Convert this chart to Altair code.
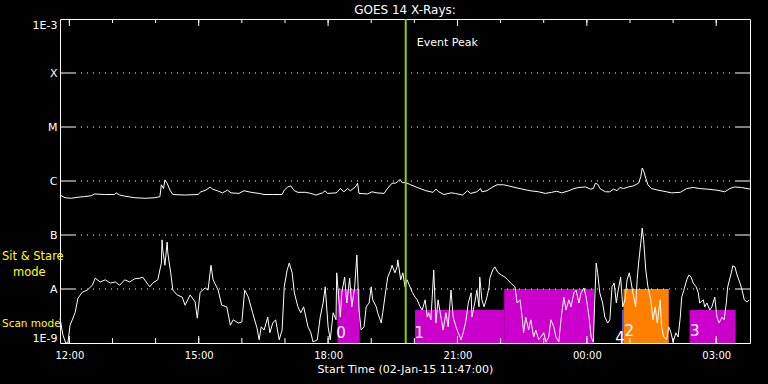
import altair as alt
import pandas as pd

# ---------------- text ----------------
title_text = "GOES 14 X-Rays:"
x_title = "Start Time (02-Jan-15 11:47:00)"
start_clock_min = 11 * 60 + 47          # start time 11:47 in minutes after midnight
span_min = 960                           # plotted span in minutes

# ---------------- y levels (log10 flux, W/m^2) ----------------
level_log = [-9, -8, -7, -6, -5, -4, -3]
level_names = ["1E-9", "A", "B", "C", "M", "X", "1E-3"]
class_log = [-8, -7, -6, -5, -4]          # A, B, C, M, X thresholds

# ---------------- x ticks (minutes after start) ----------------
hour_ticks = [13, 73, 133, 193, 253, 313, 373, 433, 493, 553, 613, 673, 733, 793, 853, 913]
label_ticks = [13, 193, 373, 553, 733, 913]

event_peak_min = 481

# ---------------- long channel (upper curve) ----------------
long_min = [0, 7, 16, 25, 34, 44, 48, 62, 76, 78,
            83, 90, 104, 118, 132, 139, 141, 144, 146, 149,
            153, 157, 173, 192, 196, 203, 209, 212, 219, 226,
            233, 238, 249, 256, 266, 277, 284, 296, 309, 312,
            317, 321, 326, 331, 342, 349, 356, 365, 369, 372,
            384, 386, 390, 395, 400, 404, 411, 414, 416, 428,
            434, 441, 451, 455, 462, 467, 470, 473, 476, 481,
            488, 497, 509, 519, 523, 527, 534, 544, 550, 560,
            567, 571, 580, 585, 587, 594, 601, 608, 617, 624,
            633, 643, 654, 666, 675, 684, 691, 698, 708, 715,
            722, 731, 738, 742, 745, 748, 752, 759, 765, 770,
            775, 779, 784, 791, 798, 805, 808, 810, 812, 815,
            818, 823, 832, 844, 851, 863, 872, 881, 890, 900,
            914, 925, 932, 939, 948, 960]
long_log = [-6.26, -6.31, -6.32, -6.30, -6.29, -6.27, -6.24, -6.25, -6.25, -6.22,
            -6.26, -6.28, -6.31, -6.32, -6.31, -6.29, -6.07, -6.14, -5.98, -6.04,
            -6.17, -6.25, -6.26, -6.25, -6.20, -6.17, -6.11, -6.15, -6.18, -6.22,
            -6.17, -6.22, -6.23, -6.18, -6.21, -6.23, -6.25, -6.25, -6.25, -6.17,
            -6.11, -6.09, -6.18, -6.21, -6.21, -6.23, -6.26, -6.22, -6.18, -6.23,
            -6.22, -6.20, -6.14, -6.20, -6.14, -6.18, -6.11, -6.04, -6.23, -6.24,
            -6.20, -6.22, -6.23, -6.15, -6.04, -6.04, -6.01, -5.97, -6.03, -6.03,
            -6.07, -6.12, -6.18, -6.21, -6.15, -6.20, -6.25, -6.22, -6.23, -6.26,
            -6.18, -6.23, -6.20, -6.14, -6.20, -6.18, -6.12, -6.07, -6.07, -6.09,
            -6.12, -6.15, -6.18, -6.20, -6.23, -6.21, -6.19, -6.22, -6.18, -6.14,
            -6.12, -6.11, -6.15, -6.14, -6.04, -6.06, -6.15, -6.20, -6.20, -6.15,
            -6.18, -6.12, -6.14, -6.11, -6.09, -6.04, -5.92, -5.76, -5.81, -5.95,
            -6.07, -6.14, -6.17, -6.20, -6.22, -6.21, -6.14, -6.12, -6.14, -6.15,
            -6.17, -6.20, -6.14, -6.11, -6.12, -6.15]

# ---------------- short channel (lower curve) ----------------
short_min = [0, 4, 8, 11, 14, 21, 25, 31, 38, 45,
             49, 56, 63, 70, 77, 83, 90, 97, 104, 111,
             115, 121, 125, 129, 136, 141, 142, 143, 146, 149,
             150, 154, 157, 163, 170, 174, 181, 188, 191, 195,
             202, 206, 210, 213, 220, 225, 232, 237, 241, 248,
             253, 257, 262, 268, 274, 277, 280, 284, 289, 292,
             296, 300, 305, 309, 312, 316, 319, 323, 326, 331,
             335, 339, 345, 349, 352, 358, 362, 366, 369, 373,
             376, 380, 384, 385, 390, 392, 396, 399, 403, 406,
             410, 413, 416, 419, 423, 426, 430, 433, 435, 440,
             442, 447, 449, 454, 456, 460, 462, 466, 469, 470,
             474, 477, 480, 483, 487, 490, 494, 497, 501, 504,
             508, 511, 513, 516, 520, 523, 526, 530, 533, 537,
             540, 544, 547, 551, 554, 558, 561, 565, 568, 572,
             573, 577, 580, 583, 584, 587, 590, 594, 597, 598,
             602, 605, 609, 614, 619, 623, 627, 633, 636, 640,
             643, 645, 648, 652, 655, 659, 662, 666, 669, 673,
             676, 680, 683, 687, 690, 694, 697, 701, 704, 708,
             711, 715, 718, 722, 725, 729, 732, 736, 739, 742,
             744, 746, 748, 751, 755, 758, 762, 765, 768, 771,
             774, 776, 780, 783, 786, 789, 792, 794, 797, 801,
             803, 805, 808, 810, 812, 815, 818, 822, 825, 828,
             831, 835, 837, 840, 844, 847, 850, 853, 857, 860,
             863, 865, 868, 872, 875, 878, 881, 885, 888, 890,
             895, 897, 900, 904, 907, 911, 914, 917, 921, 924,
             927, 929, 934, 936, 939, 942, 946, 949, 952, 956,
             959]
short_log = [-8.54, -8.85, -9.00, -9.00, -8.67, -8.44, -8.17, -8.06, -8.02, -7.93,
             -7.80, -7.87, -7.83, -7.89, -7.87, -7.93, -7.83, -7.87, -7.81, -7.80,
             -7.78, -7.89, -7.96, -7.89, -7.83, -7.52, -7.09, -7.28, -7.56, -7.13,
             -7.33, -7.70, -8.02, -8.11, -8.15, -8.30, -8.11, -8.24, -8.54, -8.06,
             -7.98, -8.02, -7.56, -7.83, -8.02, -8.30, -8.33, -8.67, -8.57, -8.63,
             -8.61, -8.02, -8.15, -8.44, -8.72, -8.94, -8.70, -8.76, -8.52, -8.81,
             -8.63, -8.57, -8.94, -8.76, -7.96, -7.65, -7.52, -7.70, -8.07, -8.33,
             -8.44, -8.33, -8.70, -8.81, -8.98, -8.94, -8.52, -8.26, -7.96, -8.70,
             -8.94, -8.44, -8.57, -7.70, -8.52, -8.07, -7.78, -8.26, -7.80, -8.33,
             -7.96, -7.37, -8.39, -8.76, -8.70, -8.33, -8.26, -7.96, -8.20, -8.33,
             -8.44, -8.63, -8.44, -7.96, -7.78, -7.65, -7.56, -7.70, -7.59, -7.46,
             -7.83, -7.70, -7.96, -7.83, -7.96, -8.06, -8.15, -8.20, -8.33, -8.39,
             -8.20, -8.52, -8.44, -8.57, -7.65, -8.63, -8.20, -8.52, -8.76, -8.44,
             -8.70, -8.02, -8.52, -8.70, -8.81, -8.94, -8.81, -8.57, -8.26, -8.07,
             -8.52, -8.26, -8.02, -8.33, -7.78, -8.20, -8.33, -8.15, -7.96, -7.80,
             -7.65, -7.59, -7.69, -7.74, -7.78, -7.83, -7.89, -7.96, -8.26, -8.20,
             -8.52, -8.81, -8.52, -8.76, -8.57, -8.89, -8.76, -8.94, -8.89, -8.81,
             -8.98, -8.89, -8.57, -8.70, -8.89, -8.98, -8.57, -8.15, -8.39, -8.20,
             -8.33, -8.07, -8.02, -8.26, -8.07, -7.98, -8.15, -8.52, -8.89, -8.98,
             -8.20, -7.52, -7.70, -8.07, -8.26, -8.52, -8.63, -8.57, -7.96, -7.89,
             -8.26, -8.07, -7.78, -8.33, -8.20, -7.83, -7.70, -7.83, -8.07, -8.33,
             -7.83, -7.52, -7.15, -6.87, -7.09, -7.65, -7.96, -8.20, -8.57, -8.33,
             -8.63, -8.20, -8.70, -8.89, -8.94, -8.70, -8.81, -8.98, -8.81, -8.89,
             -8.52, -8.15, -8.02, -7.83, -7.74, -7.78, -7.89, -7.96, -8.07, -8.26,
             -8.20, -8.33, -8.26, -8.39, -8.33, -8.15, -8.52, -8.63, -8.52, -8.57,
             -8.26, -7.96, -7.70, -7.57, -7.59, -7.74, -7.89, -8.02, -8.20, -8.24,
             -8.20]

# ---------------- observing-mode boxes ----------------
box_start = [386, 494, 618, 782, 784, 876]
box_end = [417, 618, 743, 784, 847, 940]
box_top = [-8.0, -8.39, -8.0, -8.39, -8.0, -8.39]
box_color = ["#CC00CC", "#CC00CC", "#CC00CC", "#6464FF", "#FF8000", "#CC00CC"]

box_label = ["0", "1", "4", "2", "3"]
box_label_min = [391, 500, 779, 792, 883]
box_label_log = [-8.82, -8.82, -8.90, -8.78, -8.78]

mode_text = ["Sit & Stare", "mode", "Scan mode"]
mode_log = [-7.41, -7.70, -8.65]
mode_dx = [-58, -47, -58]
mode_size = [11.5, 11.5, 10.5]

FONT = "DejaVu Sans"
W, H = 690, 324

assert len(long_min) == len(long_log)
assert len(short_min) == len(short_log)

long_df = pd.DataFrame({"minute": long_min, "logflux": long_log})
short_df = pd.DataFrame({"minute": short_min, "logflux": short_log})
box_df = pd.DataFrame({"minute": box_start, "end": box_end, "top": box_top,
                       "logflux": [-9] * len(box_start), "color": box_color})
lab_df = pd.DataFrame({"minute": box_label_min, "logflux": box_label_log, "label": box_label})
class_df = pd.DataFrame({"logflux": class_log})
hour_df = pd.DataFrame({"minute": hour_ticks})
lbl_tick_df = pd.DataFrame({"minute": label_ticks})
peak_df = pd.DataFrame({"minute": [event_peak_min], "text": ["Event Peak"]})
mode_df = pd.DataFrame({"text": mode_text, "logflux": mode_log, "dx": mode_dx,
                        "size": mode_size})

xs = alt.Scale(domain=[0, span_min], nice=False, zero=False)
ys = alt.Scale(domain=[-9, -3], nice=False, zero=False)

x_label_expr = (
    f"(floor((datum.value + {start_clock_min}) / 60) % 24 < 10 ? '0' : '') + "
    f"(floor((datum.value + {start_clock_min}) / 60) % 24) + ':00'"
)
y_label_expr = " : ".join(
    f"datum.value == {v} ? '{n}'" for v, n in zip(level_log, level_names)
) + " : ''"

x_axis = alt.Axis(values=label_ticks, labelExpr=x_label_expr, ticks=False, domain=False,
                  grid=False, labelColor="white", labelFont=FONT, labelFontSize=10,
                  labelPadding=7, labelFlush=False, title=x_title, titleColor="white",
                  titleFont=FONT, titleFontSize=11, titleFontWeight="normal",
                  titlePadding=3)
y_axis = alt.Axis(values=level_log, labelExpr=y_label_expr, ticks=False, domain=False,
                  grid=False, labelColor="white", labelFont=FONT, labelFontSize=11,
                  labelPadding=3, labelFlush=True, title=None)


def X(field="minute:Q"):
    return alt.X(field, scale=xs, axis=x_axis)


def Y(field="logflux:Q"):
    return alt.Y(field, scale=ys, axis=y_axis)


boxes = alt.Chart(box_df).mark_rect().encode(
    x=X(), x2="end:Q", y=Y(), y2="top:Q",
    color=alt.Color("color:N", scale=None),
)

grid = alt.Chart(class_df).mark_rule(color="white", strokeWidth=1, strokeDash=[1, 5]).encode(
    y=Y(), x=alt.value(15), x2=alt.value(W - 14))
lticks = alt.Chart(class_df).mark_rule(color="white", strokeWidth=1).encode(
    y=Y(), x=alt.value(0), x2=alt.value(15))
rticks = alt.Chart(class_df).mark_rule(color="white", strokeWidth=1).encode(
    y=Y(), x=alt.value(W - 14), x2=alt.value(W))

top_short = alt.Chart(hour_df).mark_rule(color="white").encode(
    x=X(), y=alt.value(0), y2=alt.value(4))
top_long = alt.Chart(lbl_tick_df).mark_rule(color="white").encode(
    x=X(), y=alt.value(0), y2=alt.value(7))
bot_short = alt.Chart(hour_df).mark_rule(color="white").encode(
    x=X(), y=alt.value(H), y2=alt.value(H - 5))
bot_long = alt.Chart(lbl_tick_df).mark_rule(color="white").encode(
    x=X(), y=alt.value(H), y2=alt.value(H - 7))

long_line = alt.Chart(long_df).mark_line(color="white", strokeWidth=1).encode(x=X(), y=Y())
short_line = alt.Chart(short_df).mark_line(color="white", strokeWidth=1).encode(x=X(), y=Y())

peak = alt.Chart(peak_df).mark_rule(color="#99CC00", strokeWidth=2).encode(x=X())
peak_text = alt.Chart(peak_df).mark_text(
    color="white", font=FONT, fontSize=11, align="left", baseline="middle", dx=11
).encode(x=X(), y=alt.value(24), text="text:N")

labels = alt.Chart(lab_df).mark_text(
    color="white", font=FONT, fontSize=15, align="center", baseline="middle"
).encode(x=X(), y=Y(), text="label:N")

modes = alt.Chart(mode_df).mark_text(
    color="#FFFF00", font=FONT, align="left", baseline="middle"
).encode(x=alt.X("dx:Q", scale=None), y=Y(), text="text:N",
         size=alt.Size("size:Q", scale=None))

chart = alt.layer(
    boxes, grid, lticks, rticks, top_short, top_long, bot_short, bot_long,
    long_line, short_line, peak, peak_text, labels, modes
).properties(
    width=W, height=H,
    title=alt.TitleParams(title_text, color="white", font=FONT, fontSize=12,
                          fontWeight="normal", anchor="middle", offset=1),
    autosize="none",
    padding={"left": 60, "top": 19, "right": 18, "bottom": 41},
).configure(background="black").configure_view(stroke="white", strokeWidth=1)

chart.save("out.html", embed_options={"renderer": "svg", "actions": False})
